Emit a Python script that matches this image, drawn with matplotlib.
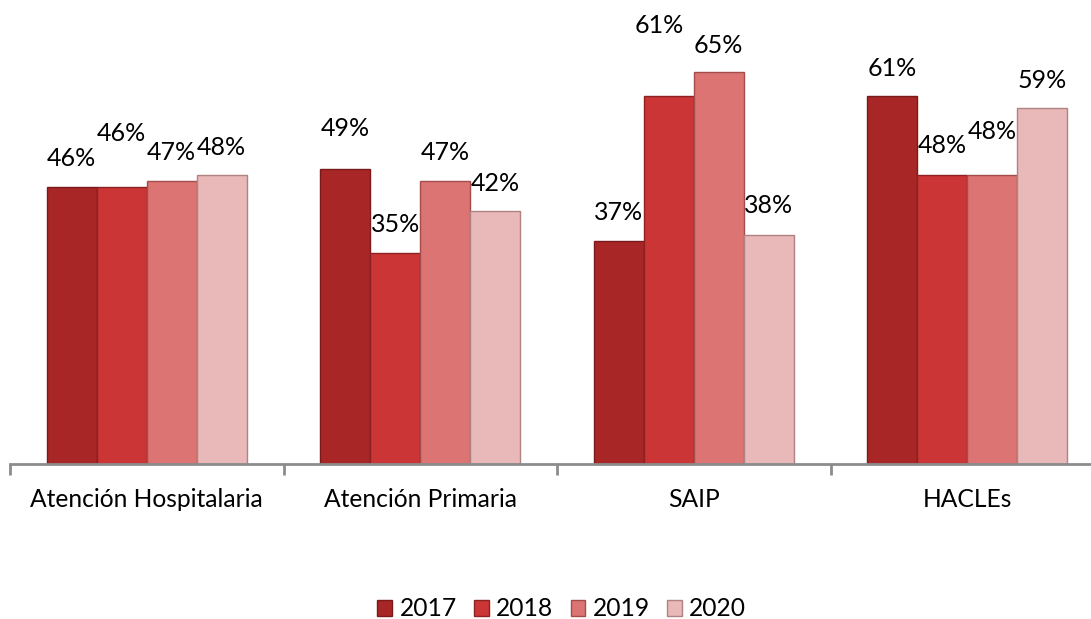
import matplotlib
matplotlib.use("Agg")
import matplotlib.pyplot as plt
import numpy as np
from matplotlib.patches import Patch

categories = ["Atención Hospitalaria", "Atención Primaria", "SAIP", "HACLEs"]
years = ["2017", "2018", "2019", "2020"]
v2017 = [46, 49, 37, 61]
v2018 = [46, 35, 61, 48]
v2019 = [47, 47, 65, 48]
v2020 = [48, 42, 38, 59]
series = [v2017, v2018, v2019, v2020]

colors = ["#a82626", "#cc3535", "#dc7473", "#e9b8b8"]
edges = ["#7a1a1a", "#8e2222", "#a44c4c", "#b08282"]
# label offsets (pixels) above bar tops: (dx, dy)
label_off = [
    [(0, 28), (0, 40), (0, 28), (0, 28)],
    [(0, 53), (0, 28), (-10, 71), (0, 29)],
    [(0, 28), (0, 28), (0, 27), (0, 43)],
    [(0, 27), (0, 27), (0, 29), (0, 28)],
]

plt.rcParams['font.family'] = ['Lato', 'DejaVu Sans']
fig = plt.figure(figsize=(10.91, 6.19), dpi=100)
ax = fig.add_axes([10/1091, 1-464/619, 1094/1091, 459/619])

x = np.arange(len(categories))
bw = 0.1828
for i, vals in enumerate(series):
    xs = x + (i - 1.5) * bw
    bars = ax.bar(xs, vals, width=bw, color=colors[i], edgecolor=edges[i], linewidth=1.0, zorder=2)
    for j, b in enumerate(bars):
        dx, dy = label_off[i][j]
        ax.annotate(f"{vals[j]}%", (b.get_x() + b.get_width()/2, b.get_height()),
                    xytext=(dx, dy), textcoords="offset pixels",
                    ha="center", va="center", fontsize=18, color="#000000")

ax.set_xlim(-0.5, len(categories) - 0.5)
ax.set_ylim(0, 459/6.03)
for s in ["top", "right", "left"]:
    ax.spines[s].set_visible(False)
ax.spines["bottom"].set_color("#8c8c8c")
ax.spines["bottom"].set_linewidth(2)
ax.set_yticks([])
ax.set_xticks(x)
ax.set_xticklabels(categories, fontsize=17.7)
ax.tick_params(axis="x", which="major", length=0, pad=17)
ax.set_xticks(np.arange(-0.5, len(categories) + 0.5, 1), minor=True)
ax.tick_params(axis="x", which="minor", length=8, width=2, color="#8c8c8c")

handles = [Patch(facecolor=colors[i], edgecolor=edges[i], label=years[i]) for i in range(4)]
fig.legend(handles=handles, loc="center", bbox_to_anchor=(0.515, 1-609/619), ncol=4,
           frameon=False, fontsize=17.7, handlelength=0.6, handleheight=0.6,
           handletextpad=0.3, columnspacing=0.7)

fig.savefig("out.png", dpi=100)
